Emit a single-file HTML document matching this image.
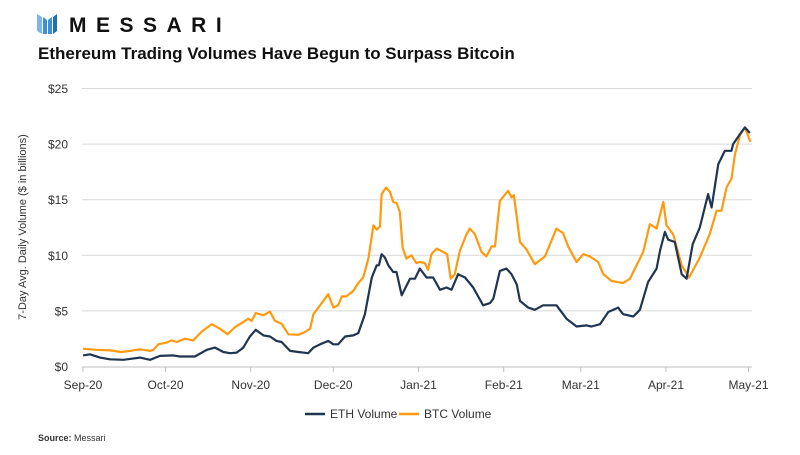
<!DOCTYPE html>
<html><head><meta charset="utf-8"><style>
body{margin:0;background:#fff;width:800px;height:450px;overflow:hidden;font-family:"Liberation Sans",sans-serif}
</style></head><body>
<svg width="800" height="450" viewBox="0 0 800 450" xmlns="http://www.w3.org/2000/svg">
<g>
<polygon points="37,14 42,17 42,34 37,31" fill="#7fb6e6"/>
<polygon points="43,17 47,20 47,34 43,34" fill="#3d8fd6"/>
<polygon points="48,20 52,17 52,34 48,34" fill="#3d8fd6"/>
<polygon points="53,17 57,14 57,31 53,34" fill="#1f6fb8"/>
<text x="69" y="32" font-size="21" font-weight="bold" fill="#111" letter-spacing="9.5">MESSARI</text>
</g>
<text x="38" y="59" font-size="17" font-weight="bold" fill="#111">Ethereum Trading Volumes Have Begun to Surpass Bitcoin</text>
<text transform="translate(26,227) rotate(-90)" text-anchor="middle" font-size="11" fill="#333">7-Day Avg.  Daily Volume ($ in billions)</text>
<g id="grid"></g><g id="yt"></g><g id="xt"></g>
<line x1="82" y1="367" x2="752" y2="367" stroke="#bfbfbf" stroke-width="1"/>
<path id="btc" fill="none" stroke="#ff9a10" stroke-width="2.2" stroke-linejoin="round"/>
<path id="eth" fill="none" stroke="#1f3550" stroke-width="2.2" stroke-linejoin="round"/>
<g>
<line x1="305" y1="414" x2="325" y2="414" stroke="#1f3550" stroke-width="2.5"/>
<text x="330" y="418" font-size="12" fill="#333">ETH Volume</text>
<line x1="399" y1="414" x2="419" y2="414" stroke="#ff9a10" stroke-width="2.5"/>
<text x="424" y="418" font-size="12" fill="#333">BTC Volume</text>
</g>
<text x="38" y="441" font-size="9" fill="#333"><tspan font-weight="bold">Source:</tspan> Messari</text>
</svg>
<script>
const yTicks=[0,5,10,15,20,25];
const yTickLabels=["$0","$5","$10","$15","$20","$25"];
const xTickDays=[0,30,61,91,122,153,181,212,242];
const xTickLabels=["Sep-20","Oct-20","Nov-20","Dec-20","Jan-21","Feb-21","Mar-21","Apr-21","May-21"];
const ethDays=[0,2.5,6.2,9.8,14.7,20.7,24.4,28,32.8,35.3,40.7,45,48,51,53.5,55.9,58.3,60.7,62.8,65.6,68,70.4,72.2,75.3,78.3,81.9,83.8,86.2,89.2,91,92.8,95.3,98.3,100.1,102.5,105,106.8,107.6,108.6,109.8,111,112.8,114,115.9,118.9,120.7,122.5,124.9,127.3,129.8,132.2,134,136.4,138.9,141.9,145.5,148,149.2,151.6,154,155.8,157.7,158.9,161.9,164.3,167.3,172.2,175.8,179.5,183.1,184.9,188,191,194.6,196.4,200.1,202.5,205.5,208.6,209.8,211.6,212.8,215.2,217.7,219.5,221.7,224.3,227.3,228.6,231,233.4,235.8,236.4,238.9,240.7,242.5];
const ethValues=[1.0,1.1,0.8,0.65,0.6,0.8,0.6,0.95,1.0,0.9,0.9,1.5,1.7,1.3,1.2,1.25,1.7,2.7,3.3,2.8,2.7,2.3,2.2,1.4,1.3,1.2,1.7,2.0,2.3,2.0,2.0,2.7,2.8,3.0,4.7,8.0,9.1,9.1,10.1,9.8,9.1,8.5,8.5,6.4,7.9,7.9,8.8,8.0,8.0,6.9,7.1,6.9,8.3,8.0,7.1,5.5,5.7,6.1,8.6,8.8,8.3,7.4,5.9,5.3,5.1,5.5,5.5,4.3,3.6,3.7,3.6,3.8,4.9,5.3,4.7,4.5,5.1,7.6,8.8,10.4,12.1,11.4,11.2,8.3,7.9,11.0,12.5,15.5,14.3,18.2,19.4,19.4,20.0,20.9,21.5,21.0];
const btcDays=[0,2.5,4.9,9.8,14,17.1,20.7,24.4,25.6,27.4,30.4,32.2,34.1,37.1,40.1,43.2,46.8,49.8,52.6,55.3,58.3,60.1,61.3,62.8,65.6,68,69.8,72.2,74.7,78.3,80.7,82.6,83.8,86.2,89.2,91,92.8,94.1,95.8,98.3,100.1,101.9,103.8,105.6,106.8,108,108.6,110.2,111.6,112.8,114,115.2,116.2,117.6,119.4,121.2,122.5,124.3,125.5,126.7,128.6,131,132.4,133.7,135.2,137,139.5,140.7,142.5,144.9,146.7,148.6,149.8,151.6,154.6,155.8,156.7,158.9,161.3,164.3,168,169.8,172.2,174.6,176.4,179.5,181.9,184.3,187.3,189.2,192.2,196.4,198.9,200.7,203.7,206.1,208.6,211,212.2,214.6,217.7,220.4,224.3,227.9,230.4,232.2,234,235.8,237.1,238.9,240.7,242.7];
const btcValues=[1.6,1.55,1.5,1.45,1.3,1.4,1.55,1.4,1.5,2.0,2.15,2.35,2.2,2.5,2.35,3.15,3.8,3.4,2.9,3.55,4.0,4.3,4.1,4.8,4.6,4.95,4.1,3.85,2.9,2.85,3.1,3.4,4.7,5.5,6.5,5.3,5.5,6.3,6.3,6.8,7.5,8.0,9.7,12.7,12.3,12.6,15.5,16.1,15.7,14.8,14.7,13.9,10.7,9.7,10.0,9.3,9.4,9.3,8.7,10.1,10.6,10.3,10.1,7.9,8.3,10.4,11.9,12.4,11.9,10.3,9.9,10.8,10.8,14.9,15.8,15.2,15.4,11.2,10.5,9.2,9.9,11.0,12.4,12.0,10.8,9.4,10.1,9.9,9.4,8.3,7.7,7.5,7.9,8.8,10.3,12.8,12.4,14.8,12.7,11.9,9.1,8.0,9.8,11.9,14.0,14.0,16.1,16.9,19.1,20.8,21.5,20.2];

const X0=83,PX_PER_DAY=2.75,Y0=366.5,PX_PER_UNIT=11.12;
function xs(d){return X0+d*PX_PER_DAY;}
function ys(v){return Y0-v*PX_PER_UNIT;}
const NS="http://www.w3.org/2000/svg";
const grid=document.getElementById('grid'),yt=document.getElementById('yt'),xt=document.getElementById('xt');
yTicks.forEach((v,i)=>{
  if(v>0){const l=document.createElementNS(NS,'line');
  
  
  l.setAttribute('x1',82);l.setAttribute('x2',752);l.setAttribute('y1',ys(v));l.setAttribute('y2',ys(v));
  l.setAttribute('stroke','#d9d9d9');l.setAttribute('stroke-width','1');grid.appendChild(l);}
  const t=document.createElementNS(NS,'text');
  
  
  t.setAttribute('x',68);t.setAttribute('y',ys(v)+4.5);t.setAttribute('text-anchor','end');
  t.setAttribute('font-size','12');t.setAttribute('fill','#333');t.textContent=yTickLabels[i];yt.appendChild(t);
});
xTickDays.forEach((d,i)=>{
  const l=document.createElementNS(NS,'line');
  
  
  l.setAttribute('x1',xs(d));l.setAttribute('x2',xs(d));l.setAttribute('y1',367);l.setAttribute('y2',372);
  l.setAttribute('stroke','#bfbfbf');xt.appendChild(l);
  const t=document.createElementNS(NS,'text');
  
  
  t.setAttribute('x',xs(d));t.setAttribute('y',389);t.setAttribute('text-anchor','middle');
  t.setAttribute('font-size','12');t.setAttribute('fill','#333');t.textContent=xTickLabels[i];xt.appendChild(t);
});
function path(ds,vs){return ds.map((d,i)=>(i?'L':'M')+xs(d).toFixed(1)+','+ys(vs[i]).toFixed(1)).join('');}
document.getElementById('eth').setAttribute('d',path(ethDays,ethValues));
document.getElementById('btc').setAttribute('d',path(btcDays,btcValues));
</script>
</body></html>
